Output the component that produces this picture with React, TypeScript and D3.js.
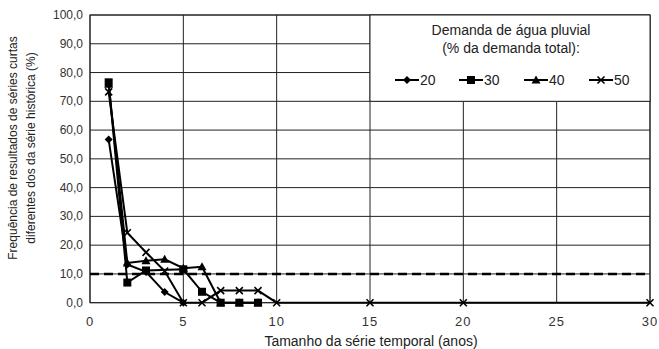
import React from "react";
import * as d3 from "d3";

const W = 659, H = 349;
const xTicks = [0, 5, 10, 15, 20, 25, 30];
const yTicks = [0, 10, 20, 30, 40, 50, 60, 70, 80, 90, 100];

const x20 = [1, 2, 3, 4, 5];
const y20 = [56.7, 13.3, 10.7, 3.7, 0];
const x30 = [1, 2, 3, 5, 6, 7, 8, 9];
const y30 = [76.6, 7.0, 11.2, 11.6, 3.8, 0, 0, 0];
const x40 = [1, 2, 3, 4, 5, 6, 7, 8, 9];
const y40 = [76.0, 13.8, 14.6, 15.1, 12.0, 12.5, 0, 0, 0];
const x50 = [1, 2, 3, 4, 5, 6, 7, 8, 9, 10, 15, 20, 30];
const y50 = [73.3, 24.3, 17.5, 11.0, 0, 0, 4.2, 4.2, 4.2, 0, 0, 0, 0];
const refValue = 10;

const legendTitle1 = "Demanda de água pluvial";
const legendTitle2 = "(% da demanda total):";
const seriesNames = ["20", "30", "40", "50"];

const font = "'Liberation Sans', Arial, sans-serif";

function Marker({ type, cx, cy }: { type: string; cx: number; cy: number }) {
  if (type === "diamond") {
    const s = 4;
    return <path d={`M${cx},${cy - s}L${cx + s},${cy}L${cx},${cy + s}L${cx - s},${cy}Z`} fill="#000" />;
  }
  if (type === "square") {
    const s = 4;
    return <rect x={cx - s} y={cy - s} width={2 * s} height={2 * s} fill="#000" />;
  }
  if (type === "triangle") {
    const s = 4.5;
    return <path d={`M${cx},${cy - s}L${cx + s},${cy + s * 0.8}L${cx - s},${cy + s * 0.8}Z`} fill="#000" />;
  }
  const s = 3.5;
  return (
    <path d={`M${cx - s},${cy - s}L${cx + s},${cy + s}M${cx + s},${cy - s}L${cx - s},${cy + s}`} stroke="#000" strokeWidth={1.6} fill="none" />
  );
}

export default function App() {
  const left = 90, right = 650, top = 15, bottom = 302.7;
  const x = d3.scaleLinear().domain([0, 30]).range([left, right]);
  const y = d3.scaleLinear().domain([0, 100]).range([bottom, top]);
  const line = d3.line<[number, number]>().x((d) => x(d[0])).y((d) => y(d[1]));

  const series = [
    { xs: x20, ys: y20, m: "diamond" },
    { xs: x30, ys: y30, m: "square" },
    { xs: x40, ys: y40, m: "triangle" },
    { xs: x50, ys: y50, m: "x" },
  ];
  const drawOrder = [0, 2, 1, 3];

  const legX = x(15), legY = y(100), legW = x(30) - x(15), legH = y(70) - y(100);
  const legItems = [395, 459, 524, 589];

  return (
    <svg width={W} height={H} style={{ position: "absolute", left: 0, top: 0 }} fontFamily={font}>
      <rect x={0} y={0} width={W} height={H} fill="#fff" />
      {yTicks.map((t) => (
        <line key={"gy" + t} x1={left} x2={right} y1={y(t)} y2={y(t)} stroke="#222" strokeWidth={1} />
      ))}
      {xTicks.map((t) => (
        <line key={"gx" + t} x1={x(t)} x2={x(t)} y1={top} y2={bottom} stroke="#222" strokeWidth={1} />
      ))}
      <rect x={left} y={top} width={right - left} height={bottom - top} fill="none" stroke="#222" strokeWidth={1} />
      <rect x={legX} y={legY} width={legW} height={legH} fill="#fff" stroke="#222" strokeWidth={1} />
      <text x={511} y={35} textAnchor="middle" fontSize={14} fill="#222">{legendTitle1}</text>
      <text x={511} y={53} textAnchor="middle" fontSize={14} fill="#222">{legendTitle2}</text>
      {series.map((s, i) => (
        <g key={"leg" + i}>
          <line x1={legItems[i]} x2={legItems[i] + 24} y1={80} y2={80} stroke="#000" strokeWidth={2} />
          <Marker type={s.m} cx={legItems[i] + 12} cy={80} />
          <text x={legItems[i] + 25} y={85} fontSize={14} fill="#222">{seriesNames[i]}</text>
        </g>
      ))}
      <line x1={left} x2={right} y1={y(refValue)} y2={y(refValue)} stroke="#000" strokeWidth={2.5} strokeDasharray="9,5" />
      {drawOrder.map((i) => {
        const s = series[i];
        return (
          <g key={"s" + i}>
            <path d={line(s.xs.map((v, j) => [v, s.ys[j]] as [number, number])) || ""} fill="none" stroke="#000" strokeWidth={2} />
            {s.xs.map((v, j) => (
              <Marker key={j} type={s.m} cx={x(v)} cy={y(s.ys[j])} />
            ))}
          </g>
        );
      })}
      {yTicks.map((t) => (
        <text key={"ty" + t} x={83} y={y(t) + 4} textAnchor="end" fontSize={12} fill="#333">
          {d3.format(".1f")(t).replace(".", ",")}
        </text>
      ))}
      {xTicks.map((t) => (
        <text key={"tx" + t} x={x(t)} y={326} textAnchor="middle" fontSize={13} letterSpacing={1} fill="#333">{t}</text>
      ))}
      <text x={371} y={346} textAnchor="middle" fontSize={14} fill="#222">Tamanho da série temporal (anos)</text>
      <text transform="translate(17,148) rotate(-90)" textAnchor="middle" fontSize={12} fill="#222">
        Frequência de resultados de séries curtas
      </text>
      <text transform="translate(35,148) rotate(-90)" textAnchor="middle" fontSize={12} fill="#222">
        diferentes dos da série histórica (%)
      </text>
    </svg>
  );
}
